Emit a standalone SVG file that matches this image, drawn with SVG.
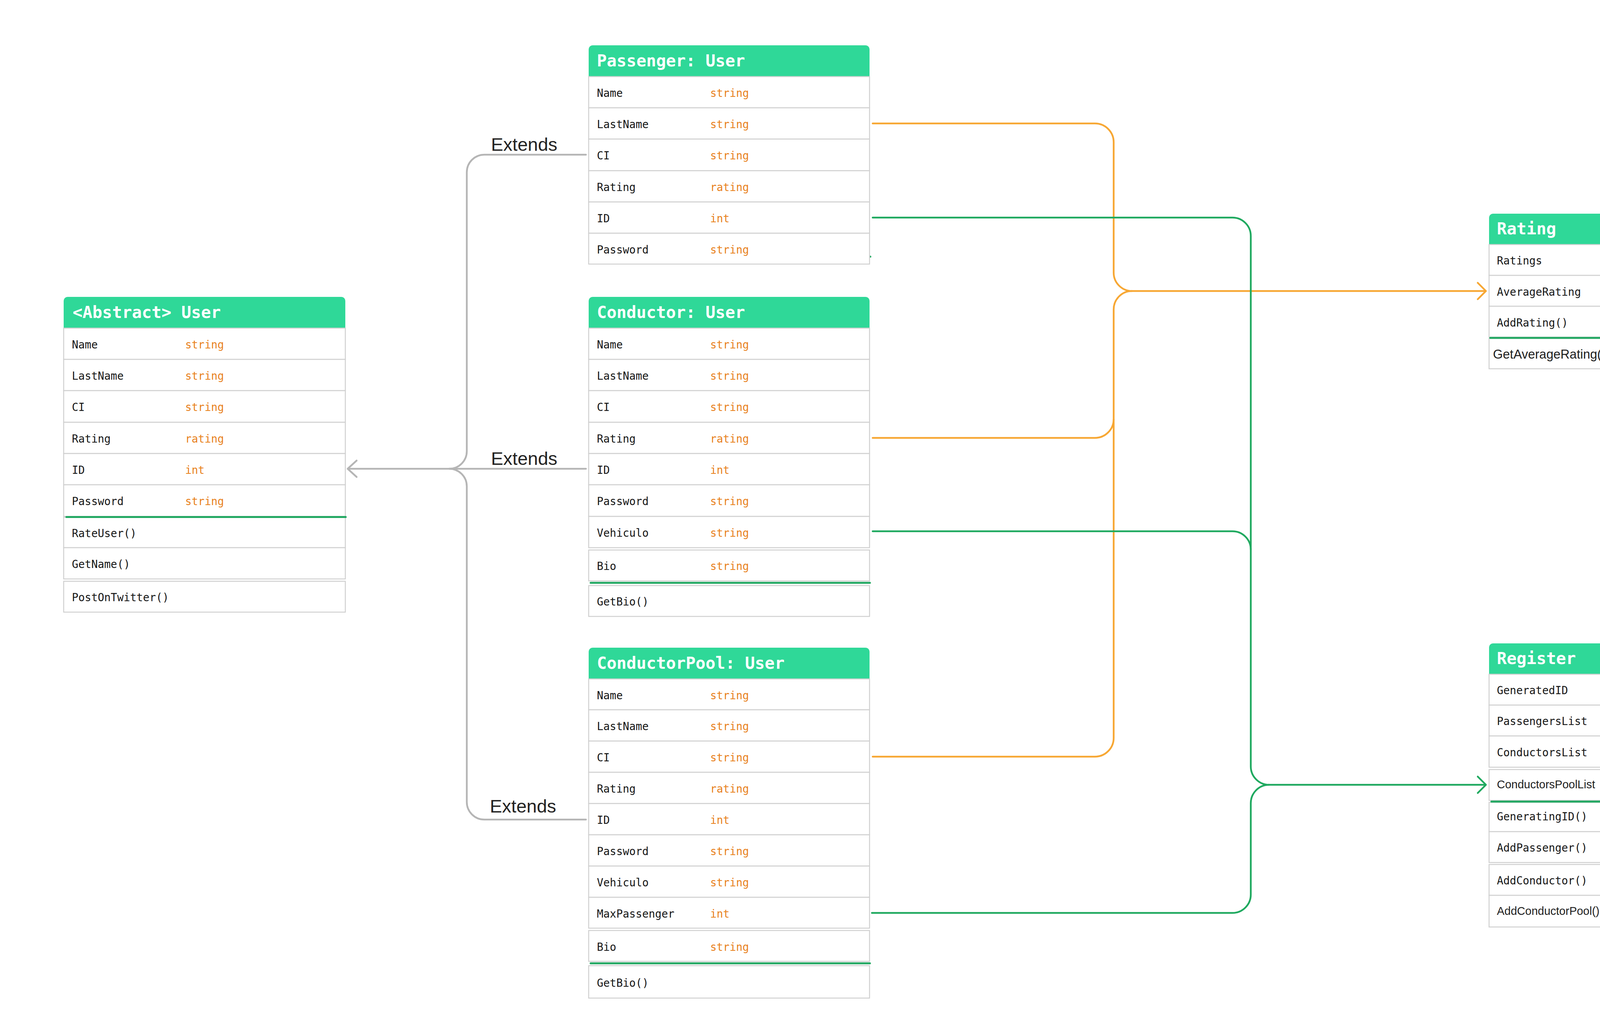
<svg xmlns="http://www.w3.org/2000/svg" width="4788" height="2606" viewBox="0 0 4788 2606">
<style>
.bg{fill:#ffffff}
.hdr{fill:#2fd898}
.hdrt{font-family:"DejaVu Sans Mono","Liberation Mono",monospace;font-weight:bold;font-size:42px;fill:#ffffff}
.row{fill:#ffffff;stroke:#d0d0d0;stroke-width:2.5}
.t{font-family:"DejaVu Sans Mono","Liberation Mono",monospace;font-size:27.5px;fill:#161616}
.ty{font-family:"DejaVu Sans Mono","Liberation Mono",monospace;font-size:27.5px;fill:#e8811c}
.s{font-family:"Liberation Sans",Arial,sans-serif;font-size:29px;fill:#1e1e1e}
.sty{font-family:"Liberation Sans",Arial,sans-serif;font-size:29px;fill:#f5a333}
.sep{stroke:#22a862;stroke-width:5;stroke-linecap:round}
.ext{font-family:"Liberation Sans",Arial,sans-serif;font-size:47px;fill:#222222}
.cgy{fill:none;stroke:#b5b5b5;stroke-width:4.5;stroke-linecap:round;stroke-linejoin:round}
.cor{fill:none;stroke:#f7a733;stroke-width:4.5;stroke-linecap:round;stroke-linejoin:round}
.cgr{fill:none;stroke:#1fa95f;stroke-width:4.5;stroke-linecap:round;stroke-linejoin:round}
</style>
<rect class="bg" x="0" y="0" width="4788" height="2606"/>

<g id="connectors">
  <path class="cgy" d="M1500,396 H1240 A45,45 0 0 0 1195,441 V1155 A45,45 0 0 1 1150,1200"/>
  <path class="cgy" d="M1500,1200 H891"/>
  <path class="cgy" d="M1500,2098 H1240 A45,45 0 0 1 1195,2053 V1245 A45,45 0 0 0 1150,1200"/>
  <polyline class="cgy" points="913,1179 890,1200 913,1221"/>
  <text class="ext" x="1257" y="386">Extends</text>
  <text class="ext" x="1257" y="1190">Extends</text>
  <text class="ext" x="1254" y="2080">Extends</text>
  <path class="cor" d="M2234,316 H2803 A48,48 0 0 1 2851,364 V698 A47,47 0 0 0 2898,745 H3802"/>
  <path class="cor" d="M2234,1121 H2803 A48,48 0 0 0 2851,1073 V792 A47,47 0 0 1 2898,745"/>
  <path class="cor" d="M2234,1937 H2803 A48,48 0 0 0 2851,1889 V1073"/>
  <polyline class="cor" points="3783,724 3804,745 3783,766"/>
  <path class="cgr" d="M2234,557 H3155 A47,47 0 0 1 3202,604 V1962 A47,47 0 0 0 3249,2009 H3802"/>
  <path class="cgr" d="M2234,1360 H3155 A47,47 0 0 1 3202,1407"/>
  <path class="cgr" d="M2232,2337 H3155 A47,47 0 0 0 3202,2290 V2056 A47,47 0 0 1 3249,2009"/>
  <polyline class="cgr" points="3783,1988 3804,2009 3783,2030"/>
  <circle cx="2228" cy="657" r="2.5" fill="#1fa95f"/>
</g>

<g id="user">
  <path class="hdr" d="M163,840 V770 A10,10 0 0 1 173,760 H874 A10,10 0 0 1 884,770 V840 Z"/>
  <text class="hdrt" x="186" y="814">&lt;Abstract&gt; User</text>
  <rect class="row" x="163" y="840" width="721" height="80"/>
  <rect class="row" x="163" y="920" width="721" height="80"/>
  <rect class="row" x="163" y="1000" width="721" height="81"/>
  <rect class="row" x="163" y="1081" width="721" height="80"/>
  <rect class="row" x="163" y="1161" width="721" height="80"/>
  <rect class="row" x="163" y="1241" width="721" height="81"/>
  <rect class="row" x="163" y="1324" width="721" height="78"/>
  <rect class="row" x="163" y="1402" width="721" height="80"/>
  <rect class="row" x="163" y="1488" width="721" height="79"/>
  <line class="sep" x1="170" y1="1323.5" x2="885" y2="1323.5"/>
  <text class="t" x="184" y="892">Name</text><text class="ty" x="474" y="892">string</text>
  <text class="t" x="184" y="972">LastName</text><text class="ty" x="474" y="972">string</text>
  <text class="t" x="184" y="1052">CI</text><text class="ty" x="474" y="1052">string</text>
  <text class="t" x="184" y="1133">Rating</text><text class="ty" x="474" y="1133">rating</text>
  <text class="t" x="184" y="1213">ID</text><text class="ty" x="474" y="1213">int</text>
  <text class="t" x="184" y="1293">Password</text><text class="ty" x="474" y="1293">string</text>
  <text class="t" x="184" y="1375">RateUser()</text>
  <text class="t" x="184" y="1454">GetName()</text>
  <text class="t" x="184" y="1539">PostOnTwitter()</text>
</g>

<g id="passenger">
  <path class="hdr" d="M1507,196 V126 A10,10 0 0 1 1517,116 H2216 A10,10 0 0 1 2226,126 V196 Z"/>
  <text class="hdrt" x="1528" y="170">Passenger: User</text>
  <rect class="row" x="1507" y="196" width="719" height="80"/>
  <rect class="row" x="1507" y="276" width="719" height="80"/>
  <rect class="row" x="1507" y="356" width="719" height="81"/>
  <rect class="row" x="1507" y="437" width="719" height="80"/>
  <rect class="row" x="1507" y="517" width="719" height="80"/>
  <rect class="row" x="1507" y="597" width="719" height="79"/>
  <text class="t" x="1528" y="248">Name</text><text class="ty" x="1818" y="248">string</text>
  <text class="t" x="1528" y="328">LastName</text><text class="ty" x="1818" y="328">string</text>
  <text class="t" x="1528" y="408">CI</text><text class="ty" x="1818" y="408">string</text>
  <text class="t" x="1528" y="489">Rating</text><text class="ty" x="1818" y="489">rating</text>
  <text class="t" x="1528" y="569">ID</text><text class="ty" x="1818" y="569">int</text>
  <text class="t" x="1528" y="649">Password</text><text class="ty" x="1818" y="649">string</text>
</g>

<g id="conductor">
  <path class="hdr" d="M1507,840 V770 A10,10 0 0 1 1517,760 H2216 A10,10 0 0 1 2226,770 V840 Z"/>
  <text class="hdrt" x="1528" y="814">Conductor: User</text>
  <rect class="row" x="1507" y="840" width="719" height="80"/>
  <rect class="row" x="1507" y="920" width="719" height="80"/>
  <rect class="row" x="1507" y="1000" width="719" height="81"/>
  <rect class="row" x="1507" y="1081" width="719" height="80"/>
  <rect class="row" x="1507" y="1161" width="719" height="80"/>
  <rect class="row" x="1507" y="1241" width="719" height="81"/>
  <rect class="row" x="1507" y="1322" width="719" height="80"/>
  <rect class="row" x="1507" y="1408" width="719" height="79"/>
  <rect class="row" x="1507" y="1499" width="719" height="79"/>
  <line class="sep" x1="1512" y1="1492" x2="2227" y2="1492"/>
  <text class="t" x="1528" y="892">Name</text><text class="ty" x="1818" y="892">string</text>
  <text class="t" x="1528" y="972">LastName</text><text class="ty" x="1818" y="972">string</text>
  <text class="t" x="1528" y="1052">CI</text><text class="ty" x="1818" y="1052">string</text>
  <text class="t" x="1528" y="1133">Rating</text><text class="ty" x="1818" y="1133">rating</text>
  <text class="t" x="1528" y="1213">ID</text><text class="ty" x="1818" y="1213">int</text>
  <text class="t" x="1528" y="1293">Password</text><text class="ty" x="1818" y="1293">string</text>
  <text class="t" x="1528" y="1374">Vehiculo</text><text class="ty" x="1818" y="1374">string</text>
  <text class="t" x="1528" y="1459">Bio</text><text class="ty" x="1818" y="1459">string</text>
  <text class="t" x="1528" y="1550">GetBio()</text>
</g>

<g id="conductorpool">
  <path class="hdr" d="M1507,1738 V1668 A10,10 0 0 1 1517,1658 H2216 A10,10 0 0 1 2226,1668 V1738 Z"/>
  <text class="hdrt" x="1528" y="1712">ConductorPool: User</text>
  <rect class="row" x="1507" y="1738" width="719" height="79"/>
  <rect class="row" x="1507" y="1817" width="719" height="80"/>
  <rect class="row" x="1507" y="1897" width="719" height="80"/>
  <rect class="row" x="1507" y="1977" width="719" height="80"/>
  <rect class="row" x="1507" y="2057" width="719" height="80"/>
  <rect class="row" x="1507" y="2137" width="719" height="80"/>
  <rect class="row" x="1507" y="2217" width="719" height="80"/>
  <rect class="row" x="1507" y="2297" width="719" height="79"/>
  <rect class="row" x="1507" y="2382" width="719" height="79"/>
  <rect class="row" x="1507" y="2472" width="719" height="83"/>
  <line class="sep" x1="1512" y1="2466" x2="2227" y2="2466"/>
  <text class="t" x="1528" y="1790">Name</text><text class="ty" x="1818" y="1790">string</text>
  <text class="t" x="1528" y="1869">LastName</text><text class="ty" x="1818" y="1869">string</text>
  <text class="t" x="1528" y="1949">CI</text><text class="ty" x="1818" y="1949">string</text>
  <text class="t" x="1528" y="2029">Rating</text><text class="ty" x="1818" y="2029">rating</text>
  <text class="t" x="1528" y="2109">ID</text><text class="ty" x="1818" y="2109">int</text>
  <text class="t" x="1528" y="2189">Password</text><text class="ty" x="1818" y="2189">string</text>
  <text class="t" x="1528" y="2269">Vehiculo</text><text class="ty" x="1818" y="2269">string</text>
  <text class="t" x="1528" y="2349">MaxPassenger</text><text class="ty" x="1818" y="2349">int</text>
  <text class="t" x="1528" y="2434">Bio</text><text class="ty" x="1818" y="2434">string</text>
  <text class="t" x="1528" y="2526">GetBio()</text>
</g>

<g id="rating">
  <path class="hdr" d="M3812,626 V557 A10,10 0 0 1 3822,547 H4520 A10,10 0 0 1 4530,557 V626 Z"/>
  <text class="hdrt" x="3832" y="600">Rating</text>
  <rect class="row" x="3812" y="626" width="718" height="79"/>
  <rect class="row" x="3812" y="705" width="718" height="79"/>
  <rect class="row" x="3812" y="784" width="718" height="79"/>
  <rect class="row" x="3812" y="866" width="718" height="78"/>
  <line class="sep" x1="3815" y1="865" x2="4530" y2="865"/>
  <text class="t" x="3832" y="677">Ratings</text><text class="ty" x="4122" y="677">list&lt;int&gt;</text>
  <text class="t" x="3832" y="757">AverageRating</text><text class="ty" x="4122" y="757">int</text>
  <text class="t" x="3832" y="836">AddRating()</text>
  <text class="s" x="3822" y="918" style="font-size:32.5px">GetAverageRating()</text>
</g>

<g id="register">
  <path class="hdr" d="M3812,1726 V1657 A10,10 0 0 1 3822,1647 H4520 A10,10 0 0 1 4530,1657 V1726 Z"/>
  <text class="hdrt" x="3832" y="1700">Register</text>
  <rect class="row" x="3812" y="1726" width="718" height="79"/>
  <rect class="row" x="3812" y="1805" width="718" height="79"/>
  <rect class="row" x="3812" y="1884" width="718" height="80"/>
  <rect class="row" x="3812" y="1970" width="718" height="79"/>
  <rect class="row" x="3812" y="2054" width="718" height="75"/>
  <rect class="row" x="3812" y="2129" width="718" height="79"/>
  <rect class="row" x="3812" y="2213" width="718" height="79"/>
  <rect class="row" x="3812" y="2292" width="718" height="81"/>
  <line class="sep" x1="3818" y1="2052" x2="4533" y2="2052"/>
  <text class="t" x="3832" y="1777">GeneratedID</text><text class="ty" x="4122" y="1777">int</text>
  <text class="t" x="3832" y="1856">PassengersList</text><text class="sty" x="4132" y="1856">List&lt;Passenger&gt;</text>
  <text class="t" x="3832" y="1936">ConductorsList</text><text class="sty" x="4132" y="1936">List&lt;Conductor&gt;</text>
  <text class="s" x="3832" y="2018">ConductorsPoolList</text><text class="sty" x="4132" y="2014">List&lt;ConductorPool&gt;</text>
  <text class="t" x="3832" y="2100">GeneratingID()</text>
  <text class="t" x="3832" y="2180">AddPassenger()</text>
  <text class="t" x="3832" y="2264">AddConductor()</text>
  <text class="s" x="3832" y="2342">AddConductorPool()</text>
</g>
</svg>
